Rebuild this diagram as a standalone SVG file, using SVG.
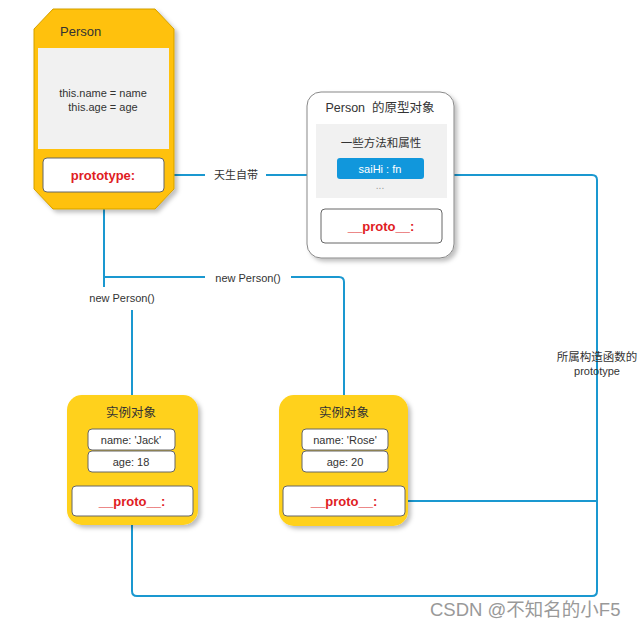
<svg xmlns="http://www.w3.org/2000/svg" width="639" height="628" viewBox="0 0 639 628">
<defs>
<filter id="sh" x="-20%" y="-20%" width="140%" height="140%">
<feDropShadow dx="3" dy="3" stdDeviation="2" flood-color="#000" flood-opacity="0.25"/>
</filter>
</defs>
<style>
text{font-family:"Liberation Sans","Noto Sans CJK SC",Arial,sans-serif;font-size:11px;fill:#333}
.c{text-anchor:middle}
.red{fill:#e0201f;font-weight:bold;font-size:13px}
.box{fill:#fff;stroke:#666;stroke-width:1}
.ln{fill:none;stroke:#1a98d0;stroke-width:2}
.t12{font-size:12.5px}
.t13{font-size:13px}
</style>
<rect width="639" height="628" fill="#fff"/>

<g id="connectors">
<path class="ln" d="M164,175 H205 M266,175 H307"/>
<path class="ln" d="M454,175 H592 Q597,175 597,180 V591 Q597,596 592,596 H137 Q132,596 132,591 V516"/>
<path class="ln" d="M405,501 H597"/>
<path class="ln" d="M104,209 V287"/>
<path class="ln" d="M132,310 V395"/>
<path class="ln" d="M104,277 H205 M291,277 H339 Q344,277 344,282 V395"/>
<text class="c" x="236" y="179">天生自带</text>
<text class="c" x="248" y="282">new Person()</text>
<text class="c" x="122" y="302">new Person()</text>
<text class="c" x="597" y="361" style="font-size:11.5px">所属构造函数的</text>
<text class="c" x="597" y="375">prototype</text>
</g>

<g id="person">
<polygon points="53,9 155,9 174,29 174,189 155,209 53,209 34,189 34,29" fill="#ffc107" stroke="#d4a000" stroke-width="1" filter="url(#sh)"/>
<text class="t13" x="60" y="36">Person</text>
<rect x="38" y="48" width="131" height="101" fill="#f1f1f1"/>
<text class="c" x="103" y="97">this.name = name</text>
<text class="c" x="103" y="111">this.age = age</text>
<rect class="box" x="43" y="158" width="121" height="34" rx="4"/>
<text class="c red" x="103" y="180">prototype:</text>
</g>

<g id="prototype-object">
<rect x="307" y="92" width="147" height="166" rx="14" fill="#fff" stroke="#888" stroke-width="1" filter="url(#sh)"/>
<text class="c t12" x="380" y="112" style="white-space:pre">Person  的原型对象</text>
<rect x="316" y="124" width="131" height="74" fill="#f1f1f1"/>
<text class="c" x="381" y="147" style="font-size:11.5px">一些方法和属性</text>
<rect x="337" y="158" width="87" height="21" rx="3" fill="#1197dc"/>
<text class="c" x="380" y="173" style="fill:#fff">saiHi : fn</text>
<text class="c" x="380" y="189" style="fill:#999;font-size:10px">...</text>
<rect class="box" x="321" y="209" width="121" height="34" rx="4"/>
<text class="c red" x="381" y="231">__proto__:</text>
</g>

<g id="instance-jack">
<rect x="67" y="395" width="131" height="130" rx="15" fill="#ffd11a" filter="url(#sh)"/>
<text class="c t12" x="131" y="417">实例对象</text>
<rect class="box" x="88" y="429" width="87" height="21" rx="4"/>
<text class="c" x="131" y="444">name: 'Jack'</text>
<rect class="box" x="88" y="451" width="87" height="21" rx="4"/>
<text class="c" x="131" y="466">age: 18</text>
<rect class="box" x="72" y="486" width="121" height="30" rx="4"/>
<text class="c red" x="132" y="506">__proto__:</text>
</g>

<g id="instance-rose">
<rect x="279" y="395" width="129" height="131" rx="15" fill="#ffd11a" filter="url(#sh)"/>
<text class="c t12" x="344" y="417">实例对象</text>
<rect class="box" x="302" y="429" width="86" height="21" rx="4"/>
<text class="c" x="345" y="444">name: 'Rose'</text>
<rect class="box" x="302" y="451" width="86" height="21" rx="4"/>
<text class="c" x="345" y="466">age: 20</text>
<rect class="box" x="283" y="486" width="122" height="30" rx="4"/>
<text class="c red" x="344" y="506">__proto__:</text>
</g>

<text x="430" y="616" style="font-size:18.5px;fill:#999">CSDN @不知名的小F5</text>
</svg>
